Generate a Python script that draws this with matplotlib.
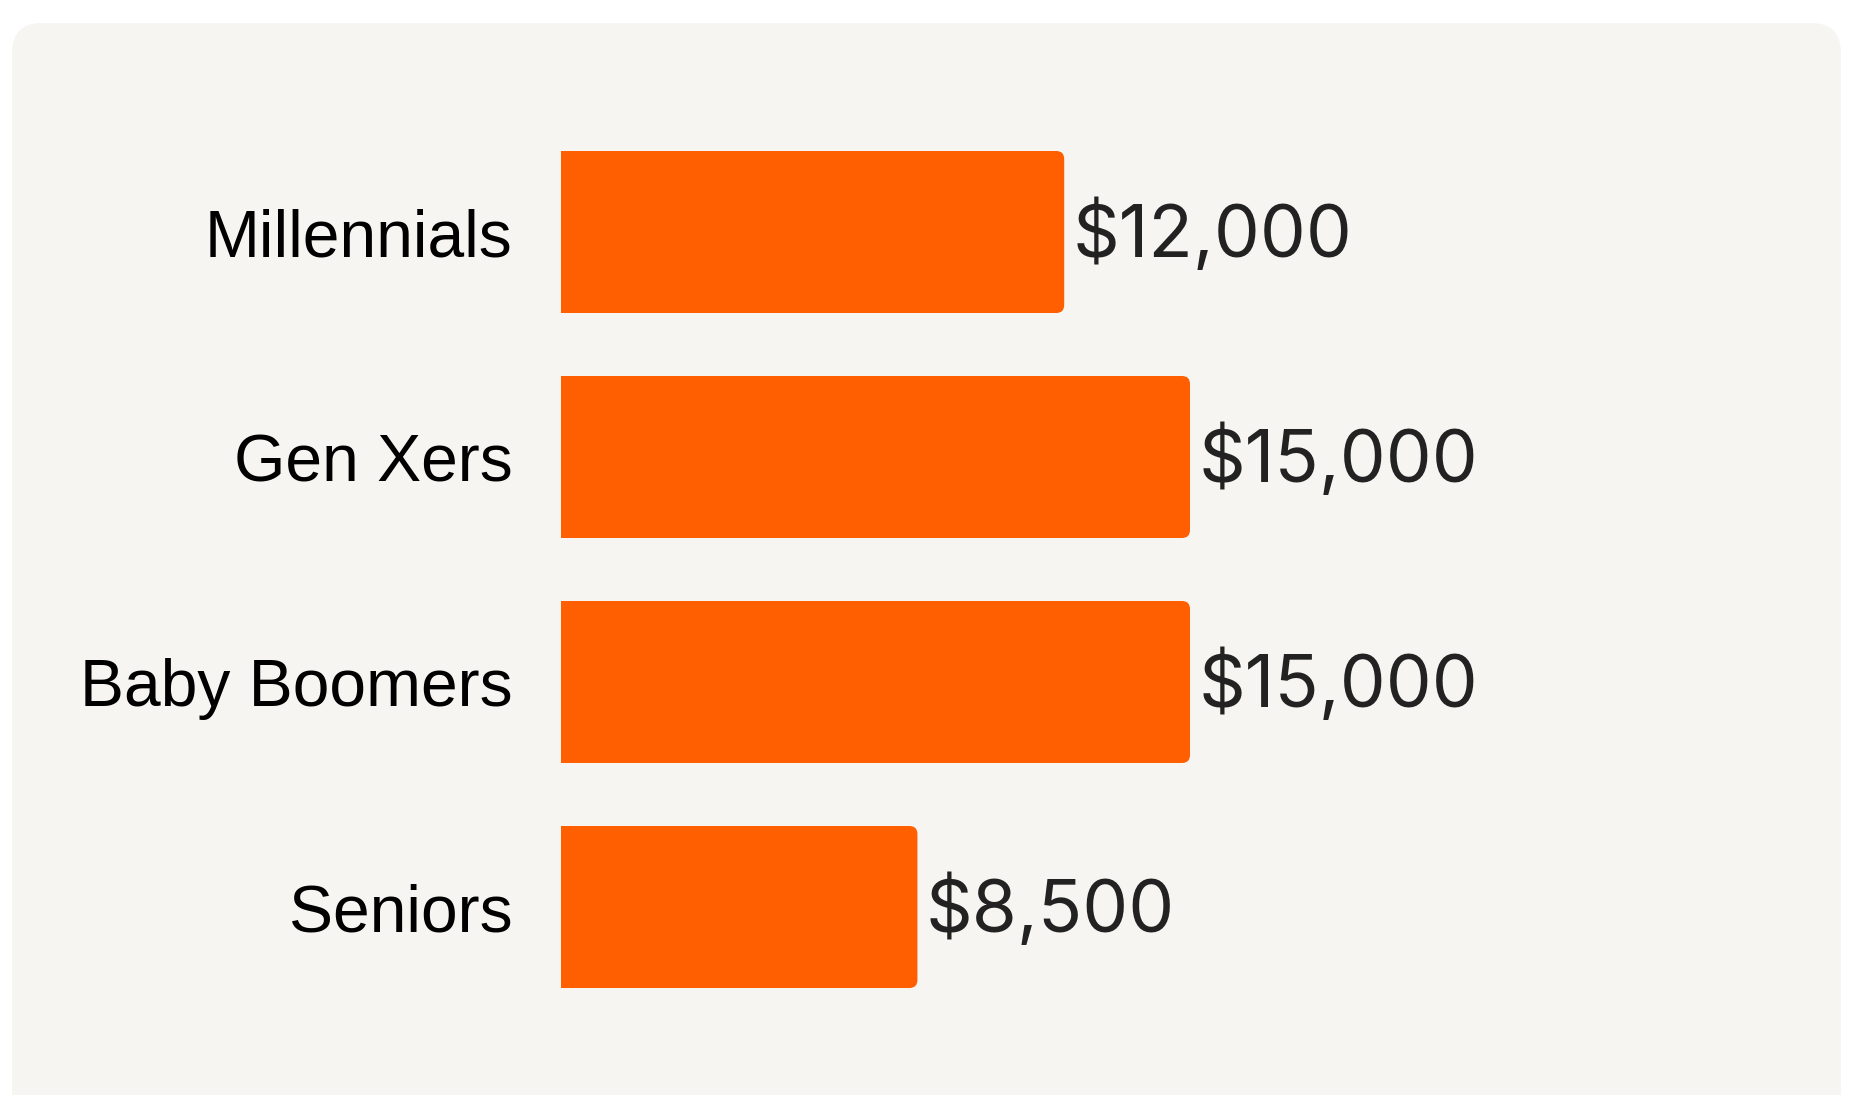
import matplotlib
matplotlib.use("Agg")
import matplotlib.pyplot as plt
from matplotlib.patches import FancyBboxPatch

# --- data ---
groups = ["Millennials", "Gen Xers", "Baby Boomers", "Seniors"]
savings = [12000, 15000, 15000, 8500]
labels = ["$12,000", "$15,000", "$15,000", "$8,500"]

BAR = "#FF5F00"
PANEL = "#F6F5F1"
W, H, DPI = 18.61, 10.95, 100

fig = plt.figure(figsize=(W, H), dpi=DPI, facecolor="white")

# rounded background panel (inches, so the corner stays round)
panel = FancyBboxPatch((0.12, -0.4), 18.29, 11.12, boxstyle="round,pad=0,rounding_size=0.3",
                       transform=fig.dpi_scale_trans, facecolor=PANEL, edgecolor="none", zorder=-10)
fig.patches.append(panel)

# axes: left edge at 561px, 900px tall, bars centred at 231..907px from the top
ax = fig.add_axes([561 / 1861, 1 - 1019.5 / 1095, 1258 / 1861, 900 / 1095])
ax.set_facecolor("none")
ax.set_xlim(0, 30000)
ax.set_ylim(3.5, -0.5)

ypos = list(range(len(groups)))
bars = ax.barh(ypos, savings, height=0.72, color=BAR)

# swap square bars for ones rounded on the right (left corners fall outside the axes and get clipped)
px_x = 1258 / 30000          # px per data unit, x
px_y = 900 / 4               # px per data unit, y
r_px = 8
rx = r_px / px_x
for b in bars:
    b.set_visible(False)
    x, y, w, h = b.get_x(), b.get_y(), b.get_width(), b.get_height()
    p = FancyBboxPatch((x - rx, y), w + rx, h,
                       boxstyle=f"round,pad=0,rounding_size={rx}",
                       mutation_aspect=(r_px / px_y) / rx,
                       facecolor=BAR, edgecolor="none", clip_on=True)
    ax.add_patch(p)

for y, v, s in zip(ypos, savings, labels):
    ax.annotate(s, (v, y), xytext=(6, -2.5), textcoords="offset points",
                va="center", ha="left", fontsize=52.5, color="#222222",
                family="Inter", annotation_clip=False)

ax.set_yticks(ypos)
ax.set_yticklabels(groups, fontsize=47.5, family="Liberation Sans", color="black")
ax.tick_params(axis="y", length=0, pad=35)
ax.set_xticks([])
for sp in ax.spines.values():
    sp.set_visible(False)

fig.savefig("out.png", dpi=DPI, facecolor="white")
